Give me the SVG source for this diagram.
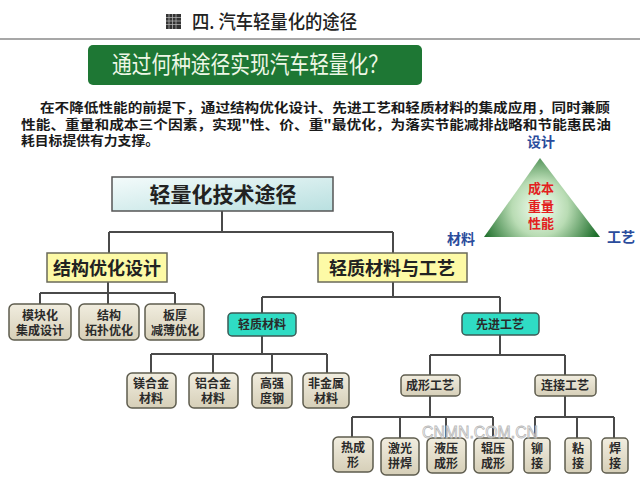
<svg xmlns="http://www.w3.org/2000/svg" width="640" height="481" viewBox="0 0 640 481">
<style>
text{font-family:"Noto Sans CJK SC","Noto Sans CJK TC",sans-serif;text-anchor:middle;fill:#222}
.lead{font-size:13px;font-weight:700;text-anchor:start;fill:#1a1a1a}
.big{font-size:18px;font-weight:700}
.sm{font-size:12px;font-weight:700;fill:#2a2a2a}
.blue{font-size:14px;font-weight:700;fill:#2a4c9c}
.red{font-size:13px;font-weight:700;fill:#e3201e}
.leaf{fill:url(#beige);stroke:#5e5c4e;stroke-width:1.5}
.teal{fill:#2fdcc4;stroke:#3c5a55;stroke-width:1.5}
.yel{fill:#fdfaa6;stroke:#6a6a5a;stroke-width:1.5}
#connectors path{fill:none;stroke:#4a4a4a;stroke-width:2}
</style>
<defs>
<linearGradient id="beige" x1="0" y1="0" x2="0" y2="1">
<stop offset="0" stop-color="#f1eddf"/>
<stop offset="1" stop-color="#d6cfb8"/>
</linearGradient>
<linearGradient id="cyan" x1="0" y1="0" x2="1" y2="1">
<stop offset="0" stop-color="#f4fbfb"/>
<stop offset="1" stop-color="#b9e0e0"/>
</linearGradient>
<radialGradient id="tri" gradientUnits="userSpaceOnUse" cx="540" cy="208" r="62">
<stop offset="0" stop-color="#f4fff2"/>
<stop offset="0.45" stop-color="#b9dcb4"/>
<stop offset="1" stop-color="#1f6f2c"/>
</radialGradient>
</defs>
<rect width="640" height="481" fill="#fff"/>

<g id="title">
<rect x="166" y="14" width="15" height="15" fill="#333"/>
<path d="M166 17.5h15M166 21h15M166 24.5h15M169 14v15M172.5 14v15M176 14v15" stroke="#bbb" stroke-width="0.7"/>
<text x="192" y="29" textLength="165" lengthAdjust="spacingAndGlyphs" style="font-size:19px;font-weight:500;fill:#222;text-anchor:start">四. 汽车轻量化的途径</text>
<line x1="0" y1="39" x2="640" y2="39" stroke="#8a8a8a" stroke-width="1.5"/>
</g>

<g id="banner">
<rect x="88" y="45" width="334" height="40" rx="5" fill="#1e7734"/>
<text x="250" y="73" textLength="276" lengthAdjust="spacingAndGlyphs" style="font-size:24px;fill:#eef7e6">通过何种途径实现汽车轻量化？</text>
</g>

<g id="paragraph">
<text class="lead" x="40" y="112" textLength="570" lengthAdjust="spacingAndGlyphs">在不降低性能的前提下，通过结构优化设计、先进工艺和轻质材料的集成应用，同时兼顾</text>
<text class="lead" x="21" y="128.5" textLength="590" lengthAdjust="spacingAndGlyphs">性能、重量和成本三个因素，实现"性、价、重"最优化，为落实节能减排战略和节能惠民油</text>
<text class="lead" x="21" y="145" textLength="138" lengthAdjust="spacingAndGlyphs">耗目标提供有力支撑。</text>
</g>

<g id="triangle">
<text class="blue" x="541" y="147">设计</text>
<polygon points="540,158 484,237 600,237" fill="url(#tri)"/>
<text class="red" x="541" y="193">成本</text>
<text class="red" x="541" y="211">重量</text>
<text class="red" x="541" y="228">性能</text>
<text class="blue" x="461" y="244">材料</text>
<text class="blue" x="621" y="242">工艺</text>
</g>

<g id="connectors">
<path d="M222 211V232M109 232H393M109 232V253M393 232V253"/>
<path d="M108 282V293M40 293H175M40 293V304M108 293V304M175 293V304"/>
<path d="M393 282V297M262 297H500M262 297V313M500 297V313"/>
<path d="M262 336V354M151 354H327M151 354V373M213 354V373M272 354V373M327 354V373"/>
<path d="M500 335V355M430 355H565M430 355V375M565 355V375"/>
<path d="M430 396V417M352 417H493M352 417V437M400 417V438M446 417V438M493 417V438"/>
<path d="M565 396V417M535 417H614M535 417V438M577 417V438M614 417V438"/>
</g>

<g id="n-root">
<rect x="112" y="177" width="221" height="34" fill="url(#cyan)" stroke="#555" stroke-width="1.5"/>
<text x="223" y="202" style="font-size:21px;font-weight:700">轻量化技术途径</text>
</g>

<g id="n-struct">
<rect class="yel" x="47" y="253" width="120" height="29"/>
<text class="big" x="107" y="275">结构优化设计</text>
</g>
<g id="n-matproc">
<rect class="yel" x="318" y="253" width="149" height="29"/>
<text class="big" x="392" y="275">轻质材料与工艺</text>
</g>

<g id="n-s1"><rect class="leaf" x="9" y="304" width="62" height="36" rx="5"/><text class="sm" x="40" y="320">模块化</text><text class="sm" x="40" y="335">集成设计</text></g>
<g id="n-s2"><rect class="leaf" x="79" y="304" width="60" height="36" rx="5"/><text class="sm" x="109" y="320">结构</text><text class="sm" x="109" y="335">拓扑优化</text></g>
<g id="n-s3"><rect class="leaf" x="145" y="304" width="59" height="36" rx="5"/><text class="sm" x="175" y="320">板厚</text><text class="sm" x="175" y="335">减薄优化</text></g>

<g id="n-light"><rect class="teal" x="228" y="313" width="68" height="23" rx="4"/><text class="sm" x="262" y="329">轻质材料</text></g>
<g id="n-adv"><rect class="teal" x="462" y="313" width="77" height="22" rx="4"/><text class="sm" x="500" y="329">先进工艺</text></g>

<g id="n-m1"><rect class="leaf" x="127" y="373" width="49" height="35" rx="5"/><text class="sm" x="151" y="388">镁合金</text><text class="sm" x="151" y="403">材料</text></g>
<g id="n-m2"><rect class="leaf" x="189" y="373" width="49" height="35" rx="5"/><text class="sm" x="213" y="388">铝合金</text><text class="sm" x="213" y="403">材料</text></g>
<g id="n-m3"><rect class="leaf" x="252" y="373" width="40" height="35" rx="5"/><text class="sm" x="272" y="388">高强</text><text class="sm" x="272" y="403">度钢</text></g>
<g id="n-m4"><rect class="leaf" x="303" y="373" width="46" height="35" rx="5"/><text class="sm" x="326" y="388">非金属</text><text class="sm" x="326" y="403">材料</text></g>

<g id="n-form"><rect class="leaf" x="401" y="375" width="59" height="21" rx="4"/><text class="sm" x="430" y="390">成形工艺</text></g>
<g id="n-join"><rect class="leaf" x="535" y="375" width="61" height="21" rx="4"/><text class="sm" x="565" y="390">连接工艺</text></g>

<g id="n-f1"><rect class="leaf" x="333" y="437" width="40" height="35" rx="5"/><text class="sm" x="353" y="452">热成</text><text class="sm" x="353" y="467">形</text></g>
<g id="n-f2"><rect class="leaf" x="381" y="438" width="38" height="37" rx="5"/><text class="sm" x="400" y="453">激光</text><text class="sm" x="400" y="468">拼焊</text></g>
<g id="n-f3"><rect class="leaf" x="427" y="438" width="39" height="35" rx="5"/><text class="sm" x="446" y="453">液压</text><text class="sm" x="446" y="468">成形</text></g>
<g id="n-f4"><rect class="leaf" x="474" y="438" width="39" height="35" rx="5"/><text class="sm" x="493" y="453">辊压</text><text class="sm" x="493" y="468">成形</text></g>

<g id="n-j1"><rect class="leaf" x="524" y="438" width="26" height="35" rx="4"/><text class="sm" x="537" y="453">铆</text><text class="sm" x="537" y="468">接</text></g>
<g id="n-j2"><rect class="leaf" x="565" y="438" width="26" height="35" rx="4"/><text class="sm" x="578" y="453">粘</text><text class="sm" x="578" y="468">接</text></g>
<g id="n-j3"><rect class="leaf" x="602" y="438" width="26" height="35" rx="4"/><text class="sm" x="615" y="453">焊</text><text class="sm" x="615" y="468">接</text></g>

<text x="480" y="438" textLength="116" lengthAdjust="spacingAndGlyphs" style="font-family:'Liberation Sans',sans-serif;font-size:16px;fill:#ffffff;fill-opacity:0.5;stroke:#b8b8b8;stroke-width:0.8">CNMN.COM.CN</text>
</svg>
